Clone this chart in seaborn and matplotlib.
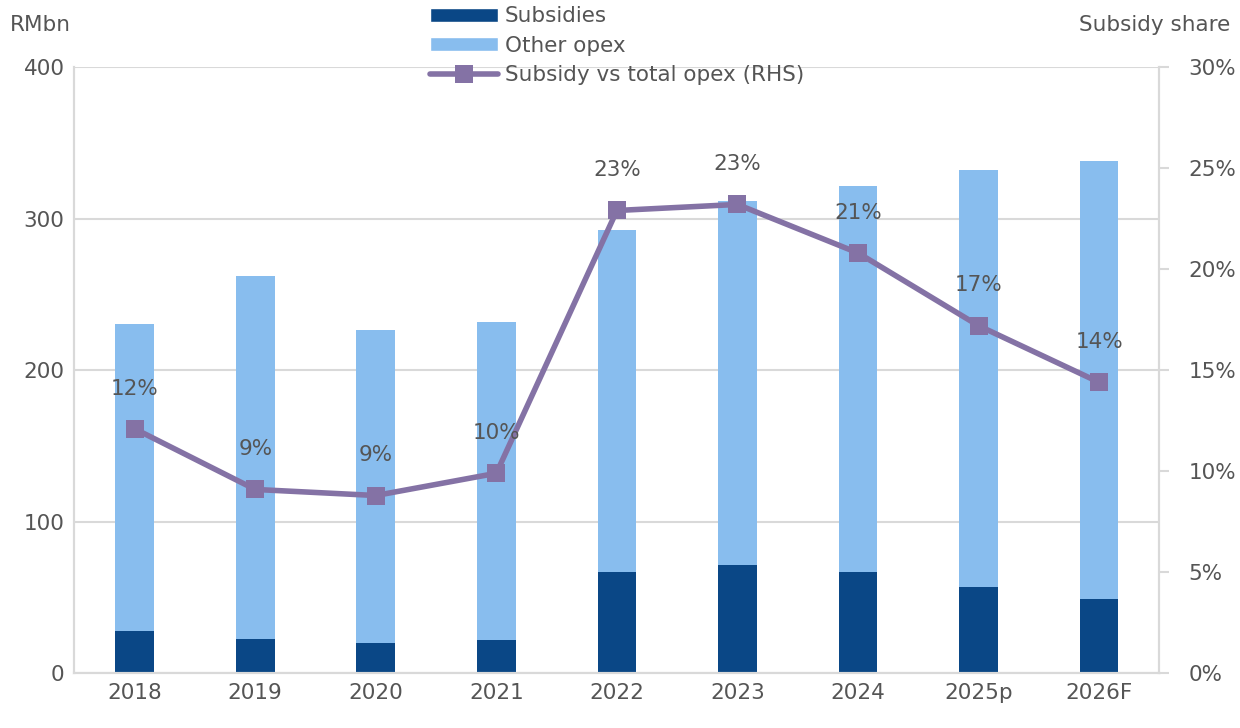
import numpy as np
import pandas as pd
import matplotlib
matplotlib.use("Agg")
import matplotlib.pyplot as plt
import seaborn as sns
from matplotlib.patches import Patch
from matplotlib.lines import Line2D

years = ["2018", "2019", "2020", "2021", "2022", "2023", "2024", "2025p", "2026F"]
subsidies = [27.7, 23.0, 19.8, 21.8, 66.7, 71.3, 66.7, 56.8, 48.8]
other_opex = [203.0, 239.0, 207.0, 210.0, 226.0, 240.0, 255.0, 275.0, 289.0]
subsidy_share = [12.1, 9.1, 8.8, 9.9, 22.9, 23.2, 20.8, 17.2, 14.4]

DARK = "#0a4786"
LIGHT = "#88bdee"
PURPLE = "#8472a5"
GRID = "#d9d9d9"
TXT = "#555555"
FS = 15.5

sns.set_theme(style="white")
plt.rcParams["font.family"] = ["DejaVu Sans"]

df = pd.DataFrame({"year": years, "subsidies": subsidies, "other": other_opex, "share": subsidy_share})
df["total"] = df["subsidies"] + df["other"]

fig, ax = plt.subplots(figsize=(12.4, 7.28), dpi=100)
fig.subplots_adjust(left=0.06, right=0.935, top=0.908, bottom=0.075)

# stacked: total bar (light) then subsidies on top of it
sns.barplot(data=df, x="year", y="total", color=LIGHT, width=0.32, saturation=1, linewidth=0, ax=ax)
sns.barplot(data=df, x="year", y="subsidies", color=DARK, width=0.32, saturation=1, linewidth=0, ax=ax)

ax.set_ylim(0, 400)
ax.set_xlim(-0.5, len(years) - 0.5)
ax.set_yticks([0, 100, 200, 300, 400])
ax.yaxis.grid(True, color=GRID, linewidth=1.5)
ax.set_axisbelow(True)
ax.set_xlabel("")
ax.set_ylabel("")
for s in ["left", "right", "bottom"]:
    ax.spines[s].set_color(GRID)
    ax.spines[s].set_linewidth(1.5)
ax.spines["top"].set_visible(False)
ax.tick_params(axis="both", labelsize=FS, labelcolor=TXT, length=0, pad=7)

ax2 = ax.twinx()
x_pos = np.arange(len(years))
sns.lineplot(x=x_pos, y=df["share"], color=PURPLE, linewidth=4, marker="s",
             markersize=13, markeredgewidth=0, ax=ax2)
ax2.set_ylim(0, 30)
ax2.set_yticks(range(0, 31, 5))
ax2.set_yticklabels([f"{v}%" for v in range(0, 31, 5)])
ax2.set_ylabel("")
for s in ["left", "right", "bottom"]:
    ax2.spines[s].set_color(GRID)
    ax2.spines[s].set_linewidth(1.5)
ax2.spines["top"].set_visible(False)
ax2.tick_params(axis="y", labelsize=FS, labelcolor=TXT, length=7, width=1.5, color=GRID, pad=14)

for xi, v in zip(x_pos, df["share"]):
    ax2.annotate(f"{v:.0f}%", (xi, v), xytext=(0, 29), textcoords="offset points",
                 ha="center", va="center", fontsize=FS, color=TXT)

fig.text(0.008, 0.966, "RMbn", fontsize=FS, color=TXT, va="center", ha="left")
fig.text(0.992, 0.966, "Subsidy share", fontsize=FS, color=TXT, va="center", ha="right")

handles = [Patch(facecolor=DARK, label="Subsidies"),
           Patch(facecolor=LIGHT, label="Other opex"),
           Line2D([0], [0], color=PURPLE, linewidth=4, marker="s", markersize=13,
                  markeredgewidth=0, label="Subsidy vs total opex (RHS)")]
leg = ax.legend(handles=handles, loc="upper center", bbox_to_anchor=(0.5, 1.114), frameon=False,
                fontsize=FS, handlelength=3.2, handleheight=0.65, labelspacing=0.43,
                handletextpad=0.3, borderaxespad=0)
for t in leg.get_texts():
    t.set_color(TXT)
leg.set_zorder(10)

fig.savefig("out.png", dpi=100)
